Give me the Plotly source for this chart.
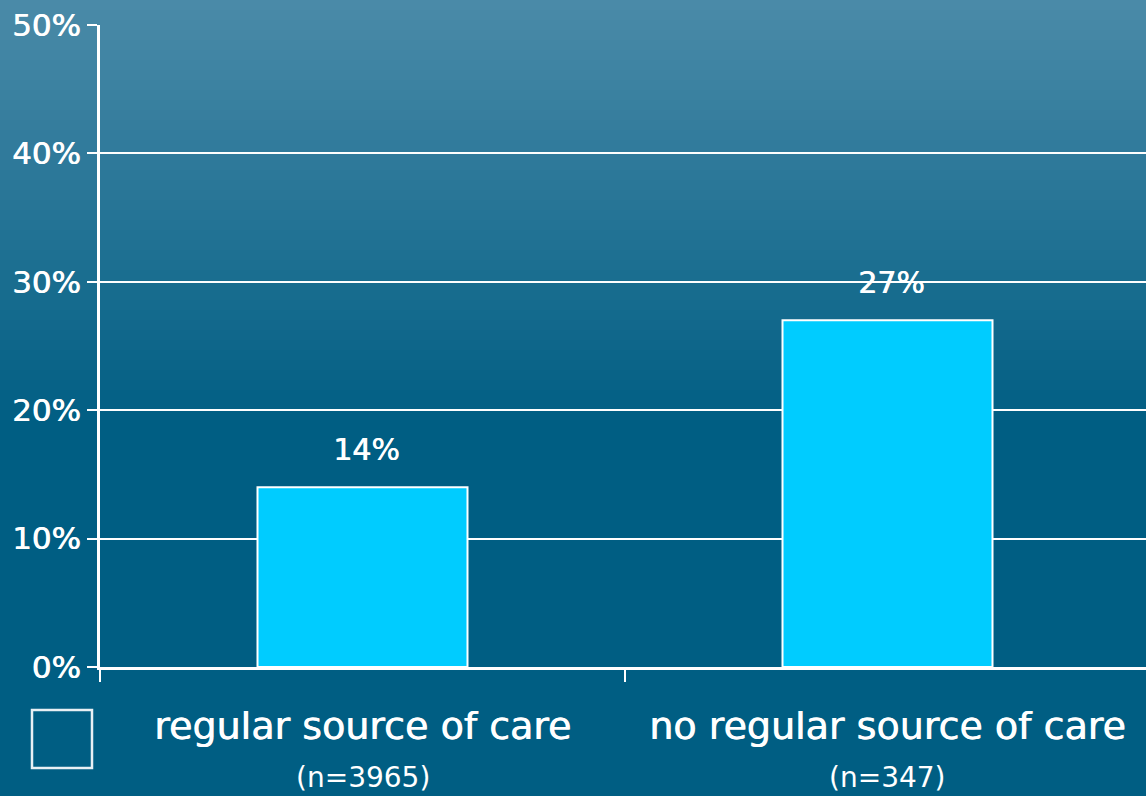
import plotly.graph_objects as go

# Chart data
categories = ["regular source of care", "no regular source of care"]
sample_sizes = ["n=3965", "n=347"]
percent_values = [14, 27]
y_tick_values = [0, 10, 20, 30, 40, 50]
y_tick_labels = ["0%", "10%", "20%", "30%", "40%", "50%"]

W, H = 1146, 796
M_L, M_R, M_T, M_B = 100, 0, 25, 129
plot_h = H - M_T - M_B

FONT = "DejaVu Sans"
# A thin same-coloured shadow thickens strokes slightly
HEAVY = "0.7px 0 0 white"

x_pos = list(range(len(categories)))

fig = go.Figure()
fig.add_trace(go.Bar(
    x=x_pos,
    y=percent_values,
    width=0.4,
    marker=dict(color="#00ccff", line=dict(color="white", width=2)),
    showlegend=False,
    hoverinfo="skip",
))

# Value labels above bars
annotations = []
for xp, v in zip(x_pos, percent_values):
    annotations.append(dict(
        x=xp, y=v, xref="x", yref="y", text=f"{v}%", showarrow=False,
        xshift=4, yshift=38,
        font=dict(family=FONT, size=30, color="white", shadow=HEAVY),
    ))

# Category labels with sample sizes underneath
for xp, name, n in zip(x_pos, categories, sample_sizes):
    annotations.append(dict(
        x=xp, y=0, xref="x", yref="paper", yanchor="top", text=name,
        showarrow=False, yshift=-35,
        font=dict(family=FONT, size=38, color="white", shadow=HEAVY),
    ))
    annotations.append(dict(
        x=xp, y=0, xref="x", yref="paper", yanchor="top", text=f"({n})",
        showarrow=False, yshift=-92,
        font=dict(family=FONT, size=28, color="white"),
    ))

# Vertical background gradient, drawn as stacked bands in paper coordinates
shapes = []
top_rgb = (74, 138, 168)
low_rgb = (0, 94, 131)
grad_end = 430
bands = 43
def py(px):
    return 1 - (px - M_T) / plot_h
for i in range(bands):
    t = i / (bands - 1)
    c = tuple(round(a + (b - a) * t) for a, b in zip(top_rgb, low_rgb))
    y0 = grad_end * i / bands
    y1 = grad_end * (i + 1) / bands + 1
    shapes.append(dict(type="rect", xref="paper", yref="paper",
                       x0=-0.2, x1=1.2, y0=py(y1), y1=py(y0),
                       fillcolor="rgb(%d,%d,%d)" % c, line=dict(width=0),
                       layer="below"))
shapes.append(dict(type="rect", xref="paper", yref="paper",
                   x0=-0.2, x1=1.2, y0=py(H + 5), y1=py(grad_end),
                   fillcolor="rgb(%d,%d,%d)" % low_rgb, line=dict(width=0),
                   layer="below"))

# Empty legend swatch
sw_x0, sw_x1, sw_y0, sw_y1 = 32, 92, 710, 768
shapes.append(dict(type="rect", xref="paper", yref="paper",
                   x0=(sw_x0 - M_L) / (W - M_L - M_R), x1=(sw_x1 - M_L) / (W - M_L - M_R),
                   y0=py(sw_y1), y1=py(sw_y0),
                   fillcolor="rgba(0,0,0,0)", line=dict(color="#e8f0f4", width=2.5)))

fig.update_layout(
    width=W, height=H,
    margin=dict(l=M_L, r=M_R, t=M_T, b=M_B, pad=0),
    paper_bgcolor="rgb(0,94,131)",
    plot_bgcolor="rgba(0,0,0,0)",
    bargap=0.6,
    shapes=shapes,
    annotations=annotations,
    xaxis=dict(
        range=[-0.5, -0.5 + (W - M_L - M_R) / 525],
        tickvals=[-0.5, 0.5],
        ticktext=["", ""],
        ticks="outside", ticklen=12, tickwidth=2, tickcolor="white",
        showgrid=False, zeroline=False,
        showline=True, linecolor="white", linewidth=3,
        fixedrange=True,
    ),
    yaxis=dict(
        range=[0, 50],
        tickvals=y_tick_values, ticktext=y_tick_labels,
        ticks="outside", ticklen=10, tickwidth=2, tickcolor="white",
        tickfont=dict(family=FONT, size=31, color="white", shadow=HEAVY),
        showgrid=True, gridcolor="white", gridwidth=2,
        zeroline=False, showline=True, linecolor="white", linewidth=3,
        fixedrange=True,
    ),
)

fig.write_html("out.html")
